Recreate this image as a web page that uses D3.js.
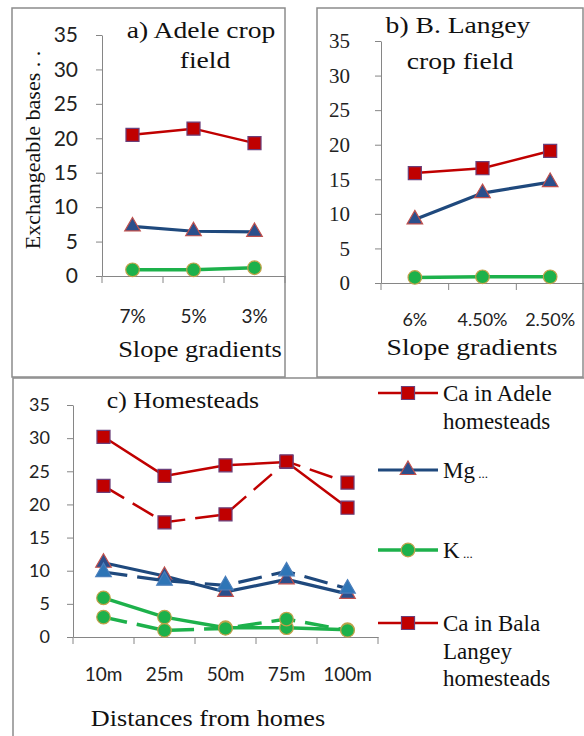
<!DOCTYPE html>
<html>
<head>
<meta charset="utf-8">
<script src="https://cdn.jsdelivr.net/npm/d3@7"></script>
<style>
  body { margin: 0; background: #fff; font-family: "Liberation Serif"; }
  svg text { font-family: "Liberation Serif"; }
  svg text.sans { font-family: "Lato"; }
</style>
</head>
<body>
<script>
// a) Adele crop field
var slopesA = ["7%", "5%", "3%"];
var caA = [20.5, 21.4, 19.3];
var mgA = [7.2, 6.5, 6.4];
var kA = [0.9, 0.9, 1.2];

// b) B. Langey crop field
var slopesB = ["6%", "4.50%", "2.50%"];
var caB = [15.9, 16.6, 19.1];
var mgB = [9.2, 13.0, 14.6];
var kB = [0.8, 0.9, 0.9];

// c) Homesteads
var distances = ["10m", "25m", "50m", "75m", "100m"];
var caAdele = [30.2, 24.3, 25.9, 26.4, 19.5];
var mgAdele = [11.2, 9.2, 6.8, 8.7, 6.5];
var kAdele = [5.9, 3.0, 1.4, 1.4, 1.1];
var caBala = [22.8, 17.3, 18.5, 26.5, 23.3];
var mgBala = [9.8, 8.5, 7.8, 9.9, 7.3];
var kBala = [3.0, 1.0, 1.3, 2.7, 1.0];

var yTicks = [0, 5, 10, 15, 20, 25, 30, 35];
var legendLabels = [["Ca in Adele", "homesteads"], ["Mg"], ["K"], ["Ca in Bala", "Langey", "homesteads"]];

var styles = {
  ca: { line: "#C00000", fill: "#C00000", stroke: "#6B3F7A", shape: d3.symbolSquare, size: 170, width: 2.5 },
  mg: { line: "#1F497D", fill: "#2B4F8C", stroke: "#C0504D", shape: d3.symbolTriangle, size: 105, width: 3.2 },
  mgB: { line: "#1F497D", fill: "#2E75B6", stroke: "#4A7EBB", shape: d3.symbolTriangle, size: 105, width: 3.2 },
  k: { line: "#1DB14B", fill: "#1DB14B", stroke: "#C2A24A", shape: d3.symbolCircle, size: 145, width: 3.5 }
};

var svg = d3.select("body")
  .append("svg")
  .style("display", "block")
  .attr("width", 584)
  .attr("height", 736);

function label(g, x, y, s, size, anchor, sx) {
  return g.append("text")
    .attr("transform", "translate(" + x + "," + y + ") scale(" + sx + ",1)")
    .attr("text-anchor", anchor)
    .attr("font-size", size)
    .attr("fill", "#111")
    .text(s);
}

function panel(p) {
  var g = svg.append("g");
  g.append("rect")
    .attr("x", p.box[0])
    .attr("y", p.box[1])
    .attr("width", p.box[2])
    .attr("height", p.box[3])
    .attr("fill", "#fff")
    .attr("stroke", "#8C8C8C")
    .attr("stroke-width", 1.5);

  var x = d3.scaleBand().domain(p.cats).range([p.x0, p.x1]);
  var y = d3.scaleLinear().domain([0, 35]).range([p.y0, p.y1]);

  var ya = g.append("g")
    .attr("transform", "translate(" + p.x0 + ",0)")
    .call(d3.axisLeft(y).tickValues(yTicks).tickSize(6).tickSizeOuter(0).tickPadding(p.ypad));
  ya.attr("font-family", null).attr("font-size", p.ysize);
  ya.select(".domain").attr("stroke", "#868686");
  ya.selectAll(".tick line").attr("stroke", "#868686");
  ya.selectAll(".tick text").attr("class", p.ysans ? "sans" : null).attr("fill", "#222");

  var xa = g.append("g")
    .attr("transform", "translate(0," + p.y0 + ")")
    .call(d3.axisBottom(x).tickSize(0).tickSizeOuter(0).tickPadding(p.xpad));
  xa.attr("font-family", null).attr("font-size", p.xsize);
  xa.select(".domain").attr("stroke", "#868686");
  xa.selectAll(".tick text").attr("class", "sans").attr("fill", "#222");
  // category boundary ticks
  xa.selectAll(".bound")
    .data(d3.range(p.cats.length + 1))
    .enter()
    .append("line")
    .attr("x1", function (i) { return x.range()[0] + i * x.step(); })
    .attr("x2", function (i) { return x.range()[0] + i * x.step(); })
    .attr("y1", 0)
    .attr("y2", 7)
    .attr("stroke", "#868686");

  var line = d3.line()
    .x(function (d, i) { return x(p.cats[i]) + x.bandwidth() / 2; })
    .y(function (d) { return y(d); });

  p.series.forEach(function (s) {
    var st = styles[s.style];
    g.append("path")
      .datum(s.values)
      .attr("d", line)
      .attr("fill", "none")
      .attr("stroke", st.line)
      .attr("stroke-width", st.width)
      .attr("stroke-dasharray", s.dash ? "24,10" : null)
      .attr("stroke-linejoin", "round");
    g.selectAll(null)
      .data(s.values)
      .enter()
      .append("path")
      .attr("d", d3.symbol().type(st.shape).size(st.size))
      .attr("transform", function (d, i) {
        return "translate(" + (x(p.cats[i]) + x.bandwidth() / 2) + "," + y(d) + ")";
      })
      .attr("fill", st.fill)
      .attr("stroke", st.stroke)
      .attr("stroke-width", 1.2);
  });

  p.texts.forEach(function (t) {
    label(g, t[1], t[2], t[0], t[3], "middle", t[4]);
  });
  return g;
}

var gA = panel({
  box: [12, 8, 273, 369],
  cats: slopesA, x0: 102, x1: 285, y0: 276, y1: 35,
  ysans: true, ysize: 21, ypad: 18, xsize: 19, xpad: 34,
  series: [
    { values: caA, style: "ca" },
    { values: mgA, style: "mg" },
    { values: kA, style: "k" }
  ],
  texts: [
    ["a) Adele crop", 201, 38, 23, 1.2],
    ["field", 205, 68, 23, 1.2],
    ["Slope gradients", 200, 357, 23, 1.15]
  ]
});

label(gA, 0, 0, "Exchangeable bases . .", 22, "middle", 1)
  .attr("transform", "translate(40,150) rotate(-90)");

panel({
  box: [317, 8, 266, 369],
  cats: slopesB, x0: 381, x1: 584, y0: 283, y1: 41,
  ysans: false, ysize: 21, ypad: 25, xsize: 18, xpad: 30,
  series: [
    { values: caB, style: "ca" },
    { values: mgB, style: "mg" },
    { values: kB, style: "k" }
  ],
  texts: [
    ["b) B. Langey", 458, 33, 23, 1.2],
    ["crop field", 460, 69, 23, 1.2],
    ["Slope gradients", 472, 355, 23, 1.2]
  ]
});

var gC = panel({
  box: [13, 378, 580, 370],
  cats: distances, x0: 73, x1: 378, y0: 637, y1: 405,
  ysans: true, ysize: 18, ypad: 17, xsize: 19, xpad: 31,
  series: [
    { values: caAdele, style: "ca" },
    { values: mgAdele, style: "mg" },
    { values: kAdele, style: "k" },
    { values: caBala, style: "ca", dash: true },
    { values: mgBala, style: "mgB", dash: true },
    { values: kBala, style: "k", dash: true }
  ],
  texts: [
    ["c) Homesteads", 183, 408, 23, 1.12],
    ["Distances from homes", 208, 726, 23, 1.14]
  ]
});

// legend
var legendStyles = ["ca", "mg", "k", "ca"];
var legendY = [393, 470, 550, 623];
var lg = gC.append("g");
legendLabels.forEach(function (lines, i) {
  var st = styles[legendStyles[i]];
  var ly = legendY[i];
  lg.append("line")
    .attr("x1", 378).attr("x2", 438)
    .attr("y1", ly).attr("y2", ly)
    .attr("stroke", st.line)
    .attr("stroke-width", st.width);
  lg.append("path")
    .attr("d", d3.symbol().type(st.shape).size(st.size))
    .attr("transform", "translate(408," + ly + ")")
    .attr("fill", st.fill)
    .attr("stroke", st.stroke)
    .attr("stroke-width", 1.2);
  lines.forEach(function (s, j) {
    var t = lg.append("text")
      .attr("x", 443)
      .attr("y", ly + 8 + j * 27.5)
      .attr("font-size", 23)
      .attr("fill", "#111")
      .text(s);
    if (lines.length == 1) {
      t.append("tspan").attr("font-size", 13).text(" ...");
    }
  });
});
</script>
</body>
</html>
